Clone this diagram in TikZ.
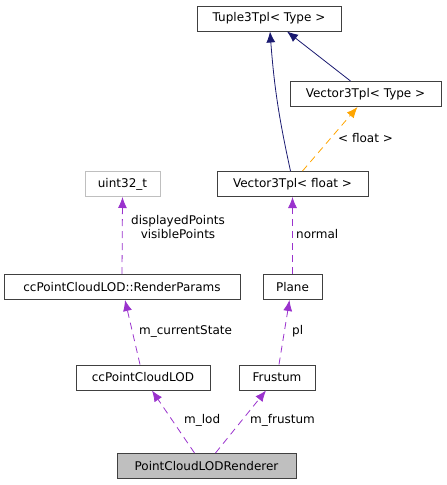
\documentclass[tikz,border=0pt]{standalone}
\usepackage{fontspec}
\setmainfont{DejaVu Sans}
\usetikzlibrary{arrows.meta}

\begin{document}
\begin{tikzpicture}[x=1pt,y=-1pt,
	cls/.style={draw=black!75,line width=1pt,fill=white,inner sep=0pt,minimum height=25pt,font=\fontsize{12}{14}\selectfont},
	ext/.style={cls,draw=black!25},
	inherit/.style={draw={rgb,255:red,25;green,25;blue,112},line width=0.8pt,-{Latex[length=11pt,width=9pt]}},
	usage/.style={draw={rgb,255:red,154;green,50;blue,205},line width=0.8pt,dashed,dash pattern=on 7pt off 5pt,-{Latex[length=11pt,width=9pt]}},
	templ/.style={draw={rgb,255:red,255;green,165;blue,0},line width=0.8pt,dashed,dash pattern=on 7pt off 5pt,-{Latex[length=11pt,width=9pt]}},
	lbl/.style={font=\fontsize{12}{14}\selectfont,inner sep=0pt}]
	\useasboundingbox (0,0) rectangle (447,485);
	% classes
	\node[cls,minimum width=144pt] (tuple) at (269,18.5) {Tuple3Tpl< Type >};
	\node[cls,minimum width=151pt] (vectype) at (365.5,94) {Vector3Tpl< Type >};
	\node[cls,minimum width=151pt] (vecfloat) at (292.5,184) {Vector3Tpl< float >};
	\node[ext,minimum width=75pt] (uint) at (122.5,184) {uint32\_t};
	\node[cls,minimum width=236pt] (params) at (122,287) {ccPointCloudLOD::RenderParams};
	\node[cls,minimum width=59pt] (plane) at (292.5,287) {Plane};
	\node[cls,minimum width=134pt] (lod) at (143,377.5) {ccPointCloudLOD};
	\node[cls,minimum width=76pt] (frustum) at (277,377.5) {Frustum};
	\node[cls,fill=black!25,minimum width=179pt] (renderer) at (206.5,466) {PointCloudLODRenderer};
	% inheritance
	\draw[inherit] ([xshift=-2pt]vecfloat.north) to[bend left=4] ([xshift=1pt]tuple.south);
	\draw[inherit] ([xshift=-15pt]vectype.north) -- ([xshift=18pt]tuple.south);
	% template instance
	\draw[templ] ([xshift=10pt]vecfloat.north) -- ([xshift=-8pt]vectype.south);
	\node[lbl,anchor=west] at (338,138) {< float >};
	% members
	\draw[usage] (params.north) -- (uint.south);
	\node[lbl,align=center] at (178,227) {displayedPoints\\visiblePoints};
	\draw[usage] (plane.north) -- (vecfloat.south);
	\node[lbl,anchor=west] at (296,234) {normal};
	\draw[usage] ([xshift=-3pt]lod.north) -- ([xshift=3pt]params.south);
	\node[lbl,anchor=west] at (139,331) {m\_currentState};
	\draw[usage] ([xshift=2pt]frustum.north) -- ([xshift=-3pt]plane.south);
	\node[lbl,anchor=west] at (292,331) {pl};
	\draw[usage] ([xshift=-12pt]renderer.north) -- ([xshift=9pt]lod.south);
	\node[lbl,anchor=west] at (184,420) {m\_lod};
	\draw[usage] ([xshift=9pt]renderer.north) -- ([xshift=-11pt]frustum.south);
	\node[lbl,anchor=west] at (250,420) {m\_frustum};
\end{tikzpicture}
\end{document}
